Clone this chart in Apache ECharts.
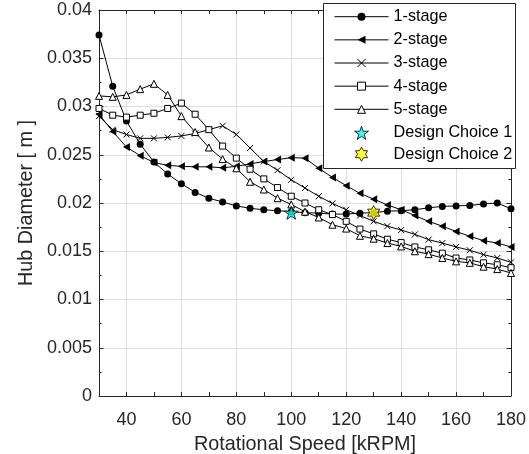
<!DOCTYPE html>
<html><head><meta charset="utf-8">
<script src="https://cdn.jsdelivr.net/npm/echarts@6/dist/echarts.min.js"></script>
<style>html,body{margin:0;padding:0;background:#fff}#c{width:529px;height:454px}</style>
</head><body><div id="c"></div>
<script>
// Rotational speed [kRPM]
const speeds = [30,35,40,45,50,55,60,65,70,75,80,85,90,95,100,105,110,115,120,125,130,135,140,145,150,155,160,165,170,175,180];
// Hub diameter [m]
const stage1 = [0.0374,0.0321,0.0285,0.0261,0.02425,0.0230,0.0220,0.0211,0.0205,0.0201,0.0197,0.01945,0.0193,0.0192,0.0191,0.0190,0.01895,0.01885,0.01885,0.01895,0.0190,0.01915,0.0192,0.0193,0.0195,0.01965,0.0197,0.01975,0.0199,0.0200,0.0194];
const stage2 = [0.0292,0.0274,0.0258,0.0249,0.0242,0.0239,0.0238,0.02375,0.02375,0.02365,0.0238,0.02405,0.0243,0.0245,0.0247,0.02465,0.0236,0.02265,0.0218,0.0210,0.0204,0.0198,0.0193,0.0187,0.0181,0.0176,0.01705,0.01655,0.0161,0.01585,0.01545];
const stage3 = [0.0290,0.0276,0.0271,0.0267,0.0267,0.0268,0.02695,0.0272,0.0276,0.0280,0.0271,0.0257,0.0243,0.0234,0.0224,0.02155,0.0207,0.01995,0.0193,0.0187,0.0181,0.0176,0.0172,0.01675,0.0162,0.01585,0.01545,0.0151,0.01465,0.0143,0.01385];
const stage4 = [0.0298,0.0291,0.0289,0.0291,0.0293,0.0298,0.03035,0.0292,0.0276,0.0259,0.02465,0.0235,0.0225,0.0216,0.0207,0.0200,0.0193,0.0188,0.0181,0.0173,0.0168,0.01625,0.0159,0.01545,0.01515,0.0148,0.0143,0.0141,0.0138,0.0136,0.0133];
const stage5 = [0.0311,0.0310,0.0312,0.0318,0.03235,0.0312,0.0290,0.02735,0.02575,0.02455,0.0236,0.0222,0.0214,0.0205,0.01985,0.0191,0.0185,0.01775,0.01735,0.0166,0.0163,0.01585,0.0155,0.0150,0.0147,0.0143,0.01395,0.0138,0.0134,0.01315,0.01275];
const designChoice1 = [100, 0.0190];
const designChoice2 = [130, 0.0190];
const seriesNames = ['1-stage','2-stage','3-stage','4-stage','5-stage'];
const designNames = ['Design Choice 1','Design Choice 2'];

const FONT = '"Liberation Sans", Arial, Helvetica, sans-serif';
const AX = '#262626';
const GRID = '#dfdfdf';

function starPath(n, inner) {
  let d = '';
  for (let k = 0; k < 2 * n; k++) {
    const r = (k % 2) ? inner : 1;
    const a = -Math.PI / 2 + k * Math.PI / n;
    d += (k ? 'L' : 'M') + (50 + 50 * r * Math.cos(a)).toFixed(2) + ',' + (50 + 50 * r * Math.sin(a)).toFixed(2);
  }
  return 'path://' + d + 'Z';
}

const markers = [
  {symbol: 'circle', symbolSize: 7, itemStyle: {color: '#000'}},
  {symbol: 'path://M0,5L8.66,0L8.66,10Z', symbolSize: [7, 8], itemStyle: {color: '#000'}},
  {symbol: 'path://M0,0L10,10M10,0L0,10', symbolSize: 6, itemStyle: {color: '#000', borderColor: '#000', borderWidth: 1}},
  {symbol: 'rect', symbolSize: 6, itemStyle: {color: '#fff', borderColor: '#000', borderWidth: 1}},
  {symbol: 'triangle', symbolSize: 7, itemStyle: {color: '#fff', borderColor: '#000', borderWidth: 1}}
];
const stageData = [stage1, stage2, stage3, stage4, stage5];

const series = stageData.map((arr, i) => ({
  name: seriesNames[i],
  type: 'line',
  data: speeds.map((s, j) => [s, arr[j]]),
  symbol: markers[i].symbol,
  symbolSize: markers[i].symbolSize,
  showAllSymbol: true,
  lineStyle: {color: '#000', width: 1},
  itemStyle: markers[i].itemStyle,
  emphasis: {disabled: true},
  animation: false,
  z: 2 + i * 0.01
}));
series.push({
  name: designNames[0], type: 'scatter', data: [designChoice1],
  symbol: starPath(5, 0.382), symbolSize: 14, symbolKeepAspect: true,
  itemStyle: {color: '#00ffff', borderColor: '#000', borderWidth: 1},
  emphasis: {disabled: true}, animation: false, z: 5
});
series.push({
  name: designNames[1], type: 'scatter', data: [designChoice2],
  symbol: starPath(6, 0.577), symbolSize: 14, symbolKeepAspect: true,
  itemStyle: {color: '#ffff00', borderColor: '#000', borderWidth: 1},
  emphasis: {disabled: true}, animation: false, z: 5
});

const axisLine = {show: true, onZero: false, lineStyle: {color: AX, width: 1}};

const chart = echarts.init(document.getElementById('c'), null, {renderer: 'canvas'});
chart.setOption({
  animation: false,
  backgroundColor: '#fff',
  textStyle: {fontFamily: FONT},
  grid: {left: 99, right: 18, top: 10, bottom: 58, containLabel: false, outerBoundsMode: 'none'},
  xAxis: [{
    type: 'value', min: 30, max: 180, interval: 10, position: 'bottom',
    axisLine: axisLine,
    axisTick: {inside: true, length: 4, lineStyle: {color: AX}},
    axisLabel: {formatter: v => (v % 20 === 0 ? String(v) : ''), fontSize: 18, color: AX, margin: 15, fontFamily: FONT},
    splitLine: {show: true, lineStyle: {color: ['rgba(0,0,0,0)', GRID], width: 1}},
    name: 'Rotational Speed [kRPM]', nameLocation: 'middle', nameGap: 39,
    nameTextStyle: {fontSize: 19.8, color: AX, fontFamily: FONT}
  }, {
    type: 'value', min: 30, max: 180, interval: 10, position: 'top',
    axisLine: axisLine,
    axisTick: {inside: true, length: 4, lineStyle: {color: AX}},
    axisLabel: {show: false}, splitLine: {show: false}
  }],
  yAxis: [{
    type: 'value', min: 0, max: 0.04, interval: 0.005, position: 'left',
    axisLine: axisLine,
    axisTick: {inside: true, length: 4.5, lineStyle: {color: AX}},
    minorTick: {show: true, splitNumber: 2, length: 2.5, lineStyle: {color: AX}},
    axisLabel: {fontSize: 18, color: AX, margin: 7, fontFamily: FONT},
    splitLine: {show: true, lineStyle: {color: GRID, width: 1}},
    name: 'Hub Diameter [ m ]', nameLocation: 'middle', nameGap: 44,
    nameTextStyle: {fontSize: 19.8, color: AX, fontFamily: FONT}
  }, {
    type: 'value', min: 0, max: 0.04, interval: 0.005, position: 'right',
    axisLine: axisLine,
    axisTick: {inside: true, length: 4.5, lineStyle: {color: AX}},
    minorTick: {show: true, splitNumber: 2, length: 2.5, lineStyle: {color: AX}},
    axisLabel: {show: false}, splitLine: {show: false}
  }],
  graphic: [{
    type: 'rect', left: 323, top: 3, z: 50,
    shape: {width: 192, height: 165},
    style: {fill: '#fff', stroke: AX, lineWidth: 1}
  }],
  legend: [{
    data: seriesNames, orient: 'vertical', left: 334, top: 7.7, padding: 0,
    itemWidth: 54, itemHeight: 10, itemGap: 5.15, selectedMode: false, z: 60,
    textStyle: {fontSize: 16.2, lineHeight: 18, color: '#000', fontFamily: FONT},
    itemStyle: {borderWidth: 1}, lineStyle: {width: 1}
  }, {
    data: designNames, orient: 'vertical', left: 354, top: 123.8, padding: 0,
    itemWidth: 14, itemHeight: 14, itemGap: 3.4, selectedMode: false, z: 60,
    textStyle: {fontSize: 16.2, lineHeight: 18, color: '#000', fontFamily: FONT, padding: [0, 0, 0, 20]},
    itemStyle: {borderWidth: 1}
  }],
  series: series
});
</script>
</body></html>
